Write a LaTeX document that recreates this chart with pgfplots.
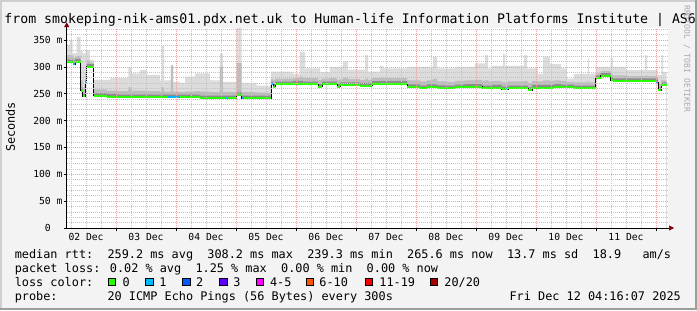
\documentclass[border=0pt]{standalone}
\usepackage{fontspec}
\usepackage{pgfplots}
\pgfplotsset{compat=1.18}
\usepackage{pgfplotstable}
\usetikzlibrary{arrows.meta}
\newfontfamily\mono{DejaVu Sans Mono}
\definecolor{bgc}{HTML}{F3F3F3}
\definecolor{shadea}{HTML}{CFCFCF}
\definecolor{shadeb}{HTML}{9E9E9E}
\definecolor{mgridc}{HTML}{F0A0A0}
\definecolor{gridc}{HTML}{C4C4C4}
\definecolor{arrowc}{HTML}{800000}
\definecolor{smokeA}{HTML}{DCDCDC}
\definecolor{smokeB}{HTML}{BDBDBD}
\definecolor{smokeC}{HTML}{8C8C8C}
\definecolor{creditc}{HTML}{AAAAAA}
\definecolor{lossA}{HTML}{26FF00}
\definecolor{lossB}{HTML}{00B8FF}
\definecolor{lossC}{HTML}{0059FF}
\definecolor{lossD}{HTML}{5E00FF}
\definecolor{lossE}{HTML}{FF00FF}
\definecolor{lossF}{HTML}{FF5500}
\definecolor{lossG}{HTML}{FF0000}
\definecolor{lossH}{HTML}{A10000}

\pgfplotstableread{
x med dk mid top
2.178 308.6 313.6 322 341
2.233 308.6 313.6 322 350
2.278 308.6 313.6 318 325
2.288 305.0 310.0 316 325
2.316 309.7 314.7 318 325
2.345 309.7 314.7 320 356
2.411 255.7 260.7 275 330
2.445 245.8 250.8 262 325
2.488 271.0 276.0 290 331
2.511 300.0 305.0 312 331
2.566 300.0 305.0 308 313
2.630 246.0 251.0 258 276
2.845 244.6 249.6 256 276
2.900 244.6 249.6 256 279
3.011 243.4 248.4 255 279
3.205 243.4 248.4 262 300
3.261 243.4 248.4 256 288
3.400 243.4 248.4 256 294
3.511 243.4 248.4 255 285
3.733 243.4 248.4 254 275
3.766 243.4 248.4 262 339
3.800 243.4 248.4 254 275
3.916 243.4 248.4 303 303
3.950 243.4 248.4 254 272
4.066 243.4 248.4 253 270
4.150 243.4 248.4 254 282
4.316 243.4 248.4 255 288
4.400 241.5 246.5 254 288
4.566 241.5 246.5 253 275
4.733 241.5 246.5 300 325
4.783 241.5 246.5 253 272
5.011 247.6 252.6 307 372
5.095 241.5 246.5 253 270
5.345 241.5 246.5 252 265
5.583 267.6 272.6 278 291
5.616 263.0 268.0 276 291
5.650 267.6 272.6 278 291
5.950 269.0 274.0 279 287
6.066 269.0 274.0 282 328
6.116 267.6 272.6 280 328
6.150 267.6 272.6 279 297
6.366 263.0 268.0 276 297
6.400 263.0 268.0 276 290
6.433 267.6 272.6 278 290
6.566 267.6 272.6 279 300
6.683 263.0 268.0 276 300
6.733 266.0 271.0 277 300
6.783 266.0 271.0 280 310
6.866 266.0 271.0 277 295
7.066 265.0 270.0 276 295
7.150 265.0 270.0 278 322
7.200 265.0 270.0 276 291
7.266 268.5 273.5 279 291
7.400 268.5 273.5 280 302
7.450 268.5 273.5 279 297
7.850 262.5 267.5 275 300
8.066 260.0 265.0 273 300
8.183 262.5 267.5 275 300
8.283 262.5 267.5 277 319
8.350 260.5 265.5 273 297
8.516 260.0 265.0 272 297
8.650 262.0 267.0 274 300
8.816 263.0 268.0 275 300
8.983 263.0 268.0 276 306.6
9.100 260.0 265.0 274 306.6
9.150 260.0 265.0 275 322
9.200 260.0 265.0 273 297
9.266 261.5 266.5 274 302
9.428 258.0 263.0 271 302
9.450 258.0 263.0 272 324
9.483 258.0 263.0 271 302
9.533 260.0 265.0 273 302
9.800 260.0 265.0 274 322
9.850 260.0 265.0 273 297
9.870 257.0 262.0 270 297
9.933 261.5 266.5 274 297
10.033 261.5 266.5 273 287
10.116 261.5 266.5 275 319
10.233 261.5 266.5 274 305
10.300 263.0 268.0 275 305
10.416 262.0 267.0 274 297
10.516 262.0 267.0 272 278
10.633 260.0 265.0 271 287
10.866 260.0 265.0 274 316
10.883 260.0 265.0 271 287
10.995 278.7 283.7 288 300
11.078 283.6 288.6 292 300
11.245 275.6 280.6 286 316
11.283 273.7 278.7 284 300
11.500 273.7 278.7 283 294
11.816 273.7 278.7 284 322
11.850 273.7 278.7 283 294
12.005 272.0 277.0 282 294
12.033 257.0 262.0 268 285
12.088 266.0 271.0 276 322
12.120 266.0 271.0 275 290
12.178 266.0 271.0 275 290
}\smoke

\pgfplotstableread{
x y
2.288 305.0
2.316 305.0
nan nan
2.488 271.0
2.511 271.0
nan nan
3.870 243.4
4.066 243.4
nan nan
4.830 241.5
4.860 241.5
nan nan
5.095 241.5
5.130 241.5
nan nan
5.583 267.6
5.616 267.6
nan nan
9.500 258.0
9.533 258.0
nan nan
12.005 272.0
12.033 272.0
}\lossone

\begin{document}
\begin{tikzpicture}[x=1bp,y=1bp]
% frame and background
\fill[bgc] (0,0) rectangle (697,310);
\fill[shadea] (0,0) rectangle (2,310);
\fill[shadea] (0,308) rectangle (697,310);
\fill[shadeb] (695,0) rectangle (697,310);
\fill[shadeb] (0,0) rectangle (697,2.5);
% title
\node[anchor=base west, inner sep=0pt, font=\mono\fontsize{13.2bp}{14bp}\selectfont]
  at (4.3,286.5) {from smokeping-nik-ams01.pdx.net.uk to Human-life Information Platforms Institute | AS6};
% credit
\node[anchor=west, rotate=-90, inner sep=0pt, text=creditc, font=\mono\fontsize{8.1bp}{9bp}\selectfont]
  at (687,305) {RRDTOOL / TOBI OETIKER};
% y label
\node[rotate=90, inner sep=0pt, font=\mono\fontsize{11.85bp}{12bp}\selectfont] at (10.5,183) {Seconds};

\begin{axis}[
  at={(66.7bp,82bp)}, anchor=south west,
  scale only axis, width=601.3bp, height=199.8bp,
  xmin=2.178, xmax=12.2, ymin=0, ymax=372,
  axis x line=bottom, axis y line=left,
  axis on top,
  axis background/.style={fill=white},
  axis line style={black, line width=0.7bp},
  every outer x axis line/.append style={-{Triangle[length=5bp,width=5bp,color=arrowc]}, shorten >=-6bp},
  every outer y axis line/.append style={-{Triangle[length=5bp,width=5bp,color=arrowc]}, shorten >=-6bp},
  /pgf/number format/assume math mode=true,
  tick label style={font=\mono\fontsize{9.7bp}{10bp}\selectfont},
  tick align=outside,
  major tick length=3bp, minor tick length=0bp,
  xtick={2.5,3.5,...,11.5},
  xticklabels={02 Dec,03 Dec,04 Dec,05 Dec,06 Dec,07 Dec,08 Dec,09 Dec,10 Dec,11 Dec},
  xtick style={draw=none},
  xticklabel style={anchor=base, inner sep=0pt, yshift=-9bp},
  extra x ticks={3,4,5,6,7,8,9,10,11,12},
  extra x tick labels={},
  extra x tick style={xmajorgrids=true, xtick style={draw=black, line width=0.6bp}},
  minor xtick={2.25,2.5,2.75,3.25,3.5,3.75,4.25,4.5,4.75,5.25,5.5,5.75,6.25,6.5,6.75,7.25,7.5,7.75,8.25,8.5,8.75,9.25,9.5,9.75,10.25,10.5,10.75,11.25,11.5,11.75},
  xminorgrids=true,
  ytick={0,50,100,150,200,250,300,350},
  yticklabels={0\phantom{mm},50 m,100 m,150 m,200 m,250 m,300 m,350 m},
  yticklabel style={anchor=east, inner sep=0pt, xshift=-1bp},
  ytick style={black, line width=0.6bp},
  minor ytick={10,20,30,40,60,70,80,90,110,120,130,140,160,170,180,190,210,220,230,240,260,270,280,290,310,320,330,340,360,370},
  ymajorgrids=true, yminorgrids=true,
  major grid style={mgridc, dash pattern=on 1bp off 1bp, line width=0.7bp},
  minor grid style={gridc, dash pattern=on 1bp off 1bp, line width=0.7bp},
  unbounded coords=jump,
  clip=true,
]
\addplot[const plot, fill=smokeA, draw=none] table[x=x,y=top]{\smoke} \closedcycle;
\addplot[const plot, fill=smokeB, draw=none] table[x=x,y=mid]{\smoke} \closedcycle;
\addplot[const plot, fill=smokeC, draw=none] table[x=x,y=dk]{\smoke} \closedcycle;
\addplot[const plot, fill=white, draw=none] table[x=x,y=med]{\smoke} \closedcycle;
\addplot[const plot, black, line width=0.8bp] table[x=x,y=med]{\smoke};
\addplot[jump mark left, lossA, line width=2bp] table[x=x,y=med]{\smoke};
\addplot[const plot, lossB, line width=2bp] table[x=x,y=y]{\lossone};
\end{axis}

% legend
\begin{scope}[font=\mono\fontsize{11.85bp}{12bp}\selectfont]
\node[anchor=base west, inner sep=0pt] at (14.6,52) {median rtt:\ \ 259.2 ms avg\ \ 308.2 ms max\ \ 239.3 ms min\ \ 265.6 ms now\ \ 13.7 ms sd\ \ 18.9\ \ \ am/s};
\node[anchor=base west, inner sep=0pt] at (14.6,38) {packet loss: 0.02 \% avg\ \ 1.25 \% max\ \ 0.00 \% min\ \ 0.00 \% now};
\node[anchor=base west, inner sep=0pt] at (14.6,24) {loss color:};
\node[anchor=base west, inner sep=0pt] at (14.6,10) {probe:\ \ \ \ \ \ \ 20 ICMP Echo Pings (56 Bytes) every 300s};
\node[anchor=base east, inner sep=0pt] at (681,10) {Fri Dec 12 04:16:07 2025};
\foreach \bx/\col/\lx/\lab in {108/lossA/122.5/0, 145.7/lossB/159.2/1, 182.7/lossC/195.9/2, 219.3/lossD/233.2/3, 256/lossE/269.9/4-5, 306/lossF/319.2/6-10, 365/lossG/379.2/11-19, 430/lossH/444.2/{20/20}}{
  \filldraw[fill=\col, draw=black, line width=0.6bp] (\bx,24.7) rectangle ++(7.5,7.5);
  \node[anchor=base west, inner sep=0pt] at (\lx,24) {\lab};
}
\end{scope}
\pgfresetboundingbox
\useasboundingbox (0,0) rectangle (697,310);
\end{tikzpicture}
\end{document}
